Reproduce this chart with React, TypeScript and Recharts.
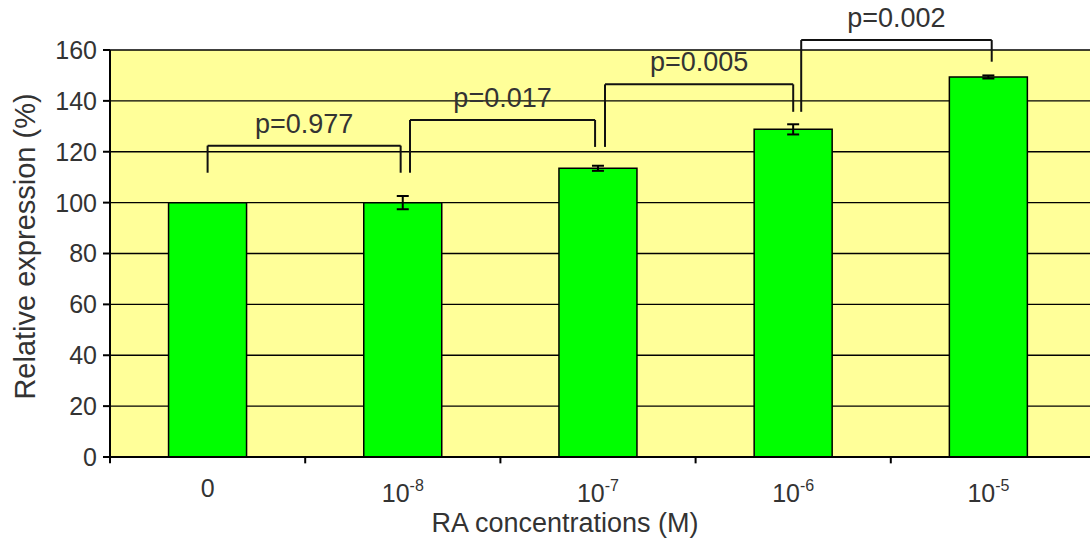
import {
  BarChart, Bar, XAxis, YAxis, CartesianGrid, ErrorBar, ReferenceLine, Label,
} from 'recharts';

const FONT = '"Liberation Sans", Arial, sans-serif';
const TEXT = '#333';

// RA concentrations; '^' marks the exponent
const categories = ['0', '10^-8', '10^-7', '10^-6', '10^-5'];
const expression = [100, 100, 113.5, 128.8, 149.4];
const errors = [0, 2.6, 1, 2, 0.6];
const yTicks = [0, 20, 40, 60, 80, 100, 120, 140, 160];

// significance brackets (x in slot units: category i spans i..i+1)
const pLabels = ['p=0.977', 'p=0.017', 'p=0.005', 'p=0.002'];
const bracketLeftX = [0.5, 1.537, 2.536, 3.541];
const bracketRightX = [1.489, 2.485, 3.5, 4.517];
const bracketTop = [122.4, 132.5, 146.5, 163.9];
const bracketLeftFoot = [111.75, 111.75, 121.9, 135.7];
const bracketRightFoot = [111.75, 121.9, 135.7, 155.4];

const boundaryTicks = [0, 1, 2, 3, 4];

const data = categories.map((c, i) => ({ conc: c, slot: i + 0.5, value: expression[i], err: errors[i] }));

function ConcTick({ x, y, payload }: any) {
  const [base, power] = String(payload.value).split('^');
  if (!power) {
    return (
      <text x={x} y={y + 32} textAnchor="middle" fill={TEXT} fontSize={25} fontFamily={FONT}>
        {base}
      </text>
    );
  }
  return (
    <text x={x} y={y + 37} textAnchor="middle" fill={TEXT} fontSize={25} fontFamily={FONT}>
      <tspan>{base}</tspan>
      <tspan dy={-11} fontSize={16}>{power}</tspan>
    </text>
  );
}

export default function App() {
  const line = { stroke: '#111', strokeWidth: 2 };
  return (
    <div style={{ position: 'absolute', left: 0, top: 0, background: '#fff' }}>
      <BarChart
        width={1090}
        height={539}
        data={data}
        margin={{ top: 50, right: 0, bottom: 0, left: 0 }}
        barCategoryGap="30%"
      >
        <CartesianGrid vertical={false} fill="#FFFF99" fillOpacity={1} stroke="#000" strokeWidth={1.4} />
        <XAxis
          xAxisId="cat"
          dataKey="conc"
          height={82}
          padding={{ left: 0, right: 4 }}
          tickLine={false}
          axisLine={{ stroke: '#000', strokeWidth: 2 }}
          tick={<ConcTick />}
          interval={0}
        >
          <Label
            content={({ viewBox }: any) => (
              <text
                x={viewBox.x + viewBox.width / 2 - 35}
                y={viewBox.y + viewBox.height - 7}
                textAnchor="middle"
                fill={TEXT}
                fontSize={27}
                fontFamily={FONT}
              >
                RA concentrations (M)
              </text>
            )}
          />
        </XAxis>
        <XAxis
          xAxisId="num"
          dataKey="slot"
          type="number"
          domain={[0, 5]}
          padding={{ left: 0, right: 4 }}
          allowDataOverflow
          hide
        />
        <YAxis
          width={110}
          domain={[0, 160]}
          ticks={yTicks}
          interval={0}
          tickSize={7}
          tickMargin={6}
          tickLine={{ stroke: '#000', strokeWidth: 2 }}
          axisLine={{ stroke: '#000', strokeWidth: 2 }}
          tick={{ fill: TEXT, fontSize: 25, fontFamily: FONT }}
        >
          <Label
            content={({ viewBox }: any) => {
              const cx = viewBox.x + 25;
              const cy = viewBox.y + viewBox.height / 2 - 7;
              return (
                <text
                  x={cx}
                  y={cy}
                  transform={`rotate(-90, ${cx}, ${cy})`}
                  textAnchor="middle"
                  dominantBaseline="central"
                  fill={TEXT}
                  fontSize={29}
                  fontFamily={FONT}
                >
                  Relative expression (%)
                </text>
              );
            }}
          />
        </YAxis>
        <Bar
          xAxisId="cat"
          dataKey="value"
          fill="#00FF00"
          stroke="#000"
          strokeWidth={1.5}
          isAnimationActive={false}
        >
          <ErrorBar dataKey="err" width={6} stroke="#000" strokeWidth={2} />
        </Bar>

        {boundaryTicks.map((t) => (
          <ReferenceLine
            key={`bt${t}`}
            xAxisId="num"
            segment={[{ x: t, y: 0 }, { x: t, y: -2.5 }]}
            ifOverflow="visible"
            stroke="#000"
            strokeWidth={2}
          />
        ))}

        {pLabels.map((p, i) => [
          <ReferenceLine
            key={`l${i}`}
            xAxisId="num"
            segment={[{ x: bracketLeftX[i], y: bracketLeftFoot[i] }, { x: bracketLeftX[i], y: bracketTop[i] }]}
            ifOverflow="visible"
            {...line}
          />,
          <ReferenceLine
            key={`r${i}`}
            xAxisId="num"
            segment={[{ x: bracketRightX[i], y: bracketRightFoot[i] }, { x: bracketRightX[i], y: bracketTop[i] }]}
            ifOverflow="visible"
            {...line}
          />,
          <ReferenceLine
            key={`t${i}`}
            xAxisId="num"
            segment={[{ x: bracketLeftX[i], y: bracketTop[i] }, { x: bracketRightX[i], y: bracketTop[i] }]}
            ifOverflow="visible"
            {...line}
            label={{ value: p, position: 'top', offset: 13, fill: TEXT, fontSize: 27, fontFamily: FONT }}
          />,
        ])}
      </BarChart>
    </div>
  );
}
